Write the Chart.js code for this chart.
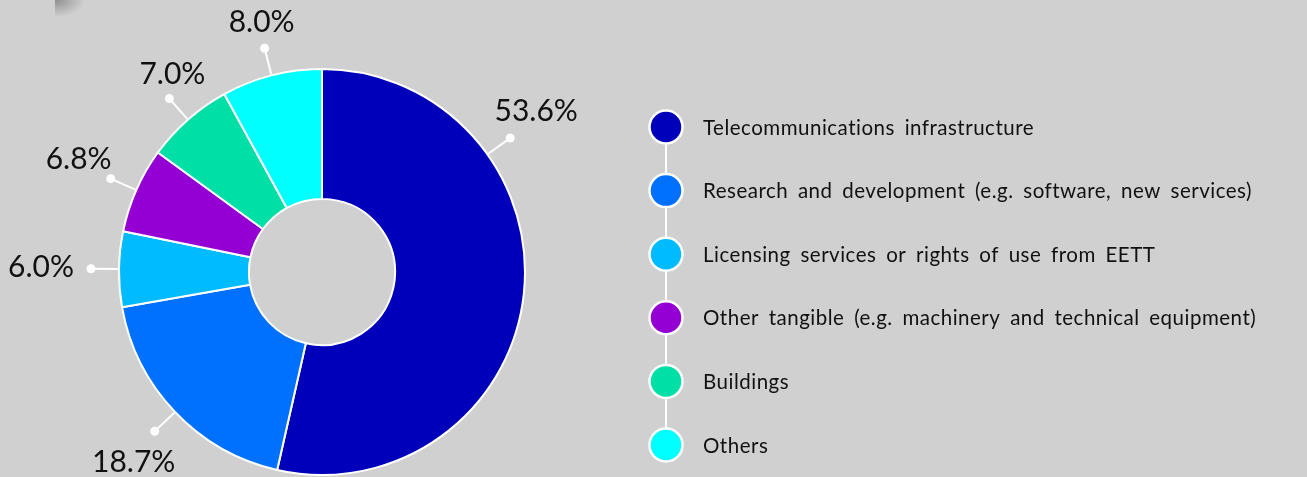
<!DOCTYPE html>
<html>
<head>
<meta charset="utf-8">
<title>Investment breakdown</title>
<script src="https://cdn.jsdelivr.net/npm/chart.js@4"></script>
<style>
  html, body { margin: 0; padding: 0; background: #d0d0d0; }
  #wrap { position: relative; width: 1307px; height: 477px; overflow: hidden; }
  #corner {
    position: absolute; left: 55px; top: 0; width: 28px; height: 16px;
    background: radial-gradient(ellipse at top left, rgba(90,90,90,0.55) 0%, rgba(208,208,208,0) 75%);
  }
  canvas { display: block; }
</style>
</head>
<body>
<div id="wrap">
  <canvas id="chart" width="1307" height="477"></canvas>
  <div id="corner"></div>
</div>
<script>
// Categories and their shares (%)
const categories = [
  'Telecommunications infrastructure',
  'Research and development (e.g. software, new services)',
  'Licensing services or rights of use from EETT',
  'Other tangible (e.g. machinery and technical equipment)',
  'Buildings',
  'Others'
];
const shares = [53.6, 18.7, 6.0, 6.8, 7.0, 8.0];

const sliceColors = ['#0000bb', '#0070ff', '#00bbff', '#9400d3', '#00dfa6', '#00ffff'];

// Where along each slice the value label's leader starts (0 = start, 1 = end)
const labelAnchor = [0.283, 0.5, 0.5, 0.5, 0.5, 0.5];
// Text placement of each value label relative to its leader dot [dx, dy]
const labelShift = [[26, -28], [-21, 30], [-50, -3], [-32, -21], [3, -26], [-3, -27]];

const FONT = 'Lato, "Open Sans", sans-serif';

// Value labels with a short white leader ending in a dot
const valueLabels = {
  id: 'valueLabels',
  afterDatasetsDraw(chart) {
    const ctx = chart.ctx;
    const meta = chart.getDatasetMeta(0);
    ctx.save();
    ctx.font = '30px ' + FONT;
    meta.data.forEach((arc, i) => {
      const p = arc.getProps(['x', 'y', 'startAngle', 'endAngle', 'outerRadius'], true);
      const a = p.startAngle + labelAnchor[i] * (p.endAngle - p.startAngle);
      const dx = Math.cos(a), dy = Math.sin(a);
      const r0 = p.outerRadius + 1, r1 = p.outerRadius + 27;
      ctx.strokeStyle = '#ffffff';
      ctx.lineWidth = 2;
      ctx.beginPath();
      ctx.moveTo(p.x + dx * r0, p.y + dy * r0);
      ctx.lineTo(p.x + dx * r1, p.y + dy * r1);
      ctx.stroke();
      const dotX = p.x + dx * (r1 + 1), dotY = p.y + dy * (r1 + 1);
      ctx.fillStyle = '#ffffff';
      ctx.beginPath();
      ctx.arc(dotX, dotY, 4.5, 0, Math.PI * 2);
      ctx.fill();

      const text = shares[i].toFixed(1) + '%';
      const m = ctx.measureText(text);
      const asc = m.actualBoundingBoxAscent, desc = m.actualBoundingBoxDescent;
      const cx = dotX + labelShift[i][0], cy = dotY + labelShift[i][1];
      ctx.fillStyle = '#111111';
      ctx.textAlign = 'center';
      ctx.textBaseline = 'alphabetic';
      ctx.fillText(text, cx, cy + (asc - desc) / 2);
    });
    ctx.restore();
  }
};

// Vertical timeline-style legend on the right
const sideLegend = {
  id: 'sideLegend',
  afterDraw(chart, args, opts) {
    const ctx = chart.ctx;
    const ds = chart.data.datasets[0];
    const n = chart.data.labels.length;
    const x = opts.x, y0 = opts.y, step = opts.step;
    ctx.save();
    ctx.strokeStyle = '#ffffff';
    ctx.lineWidth = 2;
    ctx.beginPath();
    ctx.moveTo(x, y0);
    ctx.lineTo(x, y0 + step * (n - 1));
    ctx.stroke();
    ctx.font = '20.5px ' + FONT;
    ctx.letterSpacing = '0.5px';
    ctx.wordSpacing = '4px';
    ctx.textAlign = 'left';
    ctx.textBaseline = 'middle';
    chart.data.labels.forEach((lab, i) => {
      const y = y0 + step * i;
      ctx.beginPath();
      ctx.arc(x, y, 16.5, 0, Math.PI * 2);
      ctx.fillStyle = ds.backgroundColor[i];
      ctx.fill();
      ctx.lineWidth = 2.5;
      ctx.strokeStyle = '#ffffff';
      ctx.stroke();
      ctx.fillStyle = '#111111';
      ctx.fillText(lab, opts.textX, y + 1);
    });
    ctx.restore();
  }
};

new Chart(document.getElementById('chart'), {
  type: 'doughnut',
  data: {
    labels: categories,
    datasets: [{
      data: shares,
      backgroundColor: sliceColors,
      borderColor: '#ffffff',
      borderWidth: 2,
      hoverOffset: 0
    }]
  },
  options: {
    responsive: false,
    animation: false,
    cutout: '36%',
    layout: { padding: { left: 118, right: 781, top: 68, bottom: 1 } },
    plugins: {
      legend: { display: false },
      tooltip: { enabled: false },
      sideLegend: { x: 666, y: 127, step: 63.6, textX: 703 }
    }
  },
  plugins: [valueLabels, sideLegend]
});
</script>
</body>
</html>
